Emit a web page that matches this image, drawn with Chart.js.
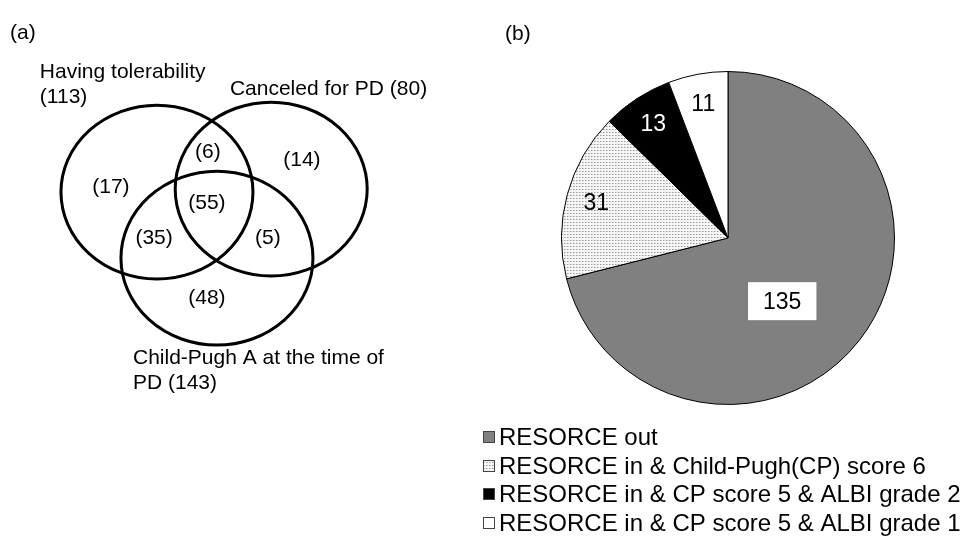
<!DOCTYPE html>
<html>
<head>
<meta charset="utf-8">
<script src="https://cdn.jsdelivr.net/npm/chart.js@4.4.1/dist/chart.umd.min.js"></script>
<style>
  body { margin: 0; background: #fff; font-family: Arial, "Liberation Sans", sans-serif; }
  #wrap { position: relative; width: 963px; height: 552px; overflow: hidden; }
  #vennChart { position: absolute; left: 0; top: 0; }
  #pieChart { position: absolute; left: 480px; top: 0; }
  .panel-label { position: absolute; font-size: 21px; line-height: 24px; color: #000; }
</style>
</head>
<body>
<div id="wrap">
  <canvas id="vennChart" width="480" height="552"></canvas>
  <canvas id="pieChart" width="483" height="552"></canvas>
  <div class="panel-label" style="left:10px; top:20px">(a)</div>
  <div class="panel-label" style="left:505px; top:21px">(b)</div>
</div>
<script>
"use strict";

// (a) venn data
const VENN_SETS = ["Having tolerability", "Canceled for PD", "Child-Pugh A at the time of PD"];
const VENN_TOTALS = [113, 80, 143];
// tol only, tol&canceled, canceled only, all three, tol&CP, canceled&CP, CP only
const REGION_COUNTS = [17, 6, 14, 55, 35, 5, 48];

// (b) pie data
const PIE_LABELS = [
  "RESORCE out",
  "RESORCE in & Child-Pugh(CP) score 6",
  "RESORCE in & CP score 5 & ALBI grade 2",
  "RESORCE in & CP score 5 & ALBI grade 1",
];
const PIE_VALUES = [135, 31, 13, 11];

// venn geometry, in axis units (x 0..10, y 0..12.7 from the top)
const CIRCLE_X = [3.27, 5.65, 4.52];
const CIRCLE_Y = [4.42, 4.35, 5.94];
const CIRCLE_R = 2;
const REGION_X = [2.31, 4.33, 6.29, 4.31, 3.21, 5.58, 4.31];
const REGION_Y = [4.30, 3.50, 3.68, 4.67, 5.48, 5.48, 6.86];
const SET_LABEL_X = [0.83, 4.79, 2.77];
const SET_LABEL_Y = [1.66, 2.05, 8.24];

const FONT = "Arial, 'Liberation Sans', sans-serif";

const setLines = [
  [VENN_SETS[0], "(" + VENN_TOTALS[0] + ")"],
  [VENN_SETS[1] + " (" + VENN_TOTALS[1] + ")"],
  ["Child-Pugh A at the time of", "PD (" + VENN_TOTALS[2] + ")"],
];

const vennPlugin = {
  id: "vennCircles",
  afterDatasetsDraw(chart) {
    const ctx = chart.ctx;
    const xs = chart.scales.x;
    const ys = chart.scales.y;
    ctx.save();
    ctx.lineWidth = 3;
    ctx.strokeStyle = "#000";
    CIRCLE_X.forEach((cx, i) => {
      const px = xs.getPixelForValue(cx);
      const py = ys.getPixelForValue(CIRCLE_Y[i]);
      const rx = Math.abs(xs.getPixelForValue(cx + CIRCLE_R) - px);
      const ry = Math.abs(ys.getPixelForValue(CIRCLE_Y[i] + CIRCLE_R) - py);
      ctx.beginPath();
      ctx.ellipse(px, py, rx, ry, 0, 0, Math.PI * 2);
      ctx.stroke();
    });

    ctx.font = "21px " + FONT;
    ctx.fillStyle = "#000";
    ctx.textAlign = "center";
    ctx.textBaseline = "middle";
    chart.getDatasetMeta(0).data.forEach((pt, i) => {
      ctx.fillText("(" + REGION_COUNTS[i] + ")", pt.x, pt.y);
    });

    ctx.textAlign = "left";
    const lineStep = Math.abs(ys.getPixelForValue(0.58) - ys.getPixelForValue(0));
    setLines.forEach((lines, i) => {
      const x = xs.getPixelForValue(SET_LABEL_X[i]);
      const y = ys.getPixelForValue(SET_LABEL_Y[i]);
      lines.forEach((t, j) => ctx.fillText(t, x, y + j * lineStep));
    });
    ctx.restore();
  },
};

new Chart(document.getElementById("vennChart").getContext("2d"), {
  type: "scatter",
  data: {
    datasets: [
      {
        data: REGION_X.map((x, i) => ({ x: x, y: REGION_Y[i] })),
        pointRadius: 0,
      },
    ],
  },
  options: {
    responsive: false,
    animation: false,
    layout: { padding: 0 },
    scales: {
      x: { display: false, min: 0, max: 10 },
      y: { display: false, min: 0, max: 12.7, reverse: true },
    },
    plugins: { legend: { display: false }, tooltip: { enabled: false } },
  },
  plugins: [vennPlugin],
});

// dotted fill for the CP score 6 slice
function makeDots(ctx) {
  const c = document.createElement("canvas");
  c.width = 3;
  c.height = 3;
  const g = c.getContext("2d");
  g.fillStyle = "#f6f6f6";
  g.fillRect(0, 0, 3, 3);
  g.fillStyle = "#9a9a9a";
  g.fillRect(0, 0, 1, 1);
  g.fillStyle = "#c8c8c8";
  g.fillRect(1, 0, 1, 1);
  return ctx.createPattern(c, "repeat");
}

const pieCtx = document.getElementById("pieChart").getContext("2d");
const pieColors = ["#808080", makeDots(pieCtx), "#000000", "#ffffff"];
const pieTextColors = ["#000", "#000", "#fff", "#000"];

const pieLabelPlugin = {
  id: "pieValueLabels",
  afterDatasetsDraw(chart) {
    const ctx = chart.ctx;
    const total = PIE_VALUES.reduce((a, b) => a + b, 0);
    ctx.save();
    ctx.font = "23px " + FONT;
    ctx.textAlign = "center";
    ctx.textBaseline = "middle";
    chart.getDatasetMeta(0).data.forEach((arc, i) => {
      const p = arc.getProps(["x", "y", "startAngle", "endAngle", "outerRadius"], true);
      let mid = (p.startAngle + p.endAngle) / 2;
      const big = PIE_VALUES[i] / total > 0.5;
      // big slice label sits a bit lower, like excel's best fit
      if (big) mid += 0.2;
      const r = p.outerRadius * (big ? 0.5 : 0.82);
      const x = p.x + Math.cos(mid) * r;
      const y = p.y + Math.sin(mid) * r;
      const txt = String(PIE_VALUES[i]);
      if (big) {
        const w = ctx.measureText(txt).width + 30;
        ctx.fillStyle = "#fff";
        ctx.fillRect(x - w / 2, y - 19, w, 38);
      }
      ctx.fillStyle = pieTextColors[i];
      ctx.fillText(txt, x, y + 1);
    });
    ctx.restore();
  },
};

const pieLegendPlugin = {
  id: "pieLegend",
  afterDraw(chart) {
    const ctx = chart.ctx;
    const colors = chart.data.datasets[0].backgroundColor;
    const top = chart.chartArea.bottom + 32;
    ctx.save();
    ctx.font = "24px " + FONT;
    ctx.textAlign = "left";
    ctx.textBaseline = "middle";
    chart.data.labels.forEach((label, i) => {
      const y = Math.round(top + i * 28.7);
      ctx.fillStyle = colors[i];
      ctx.fillRect(3.5, y - 5.5, 11, 11);
      ctx.strokeStyle = "#444";
      ctx.lineWidth = 1;
      ctx.strokeRect(3.5, y - 5.5, 11, 11);
      ctx.fillStyle = "#000";
      ctx.fillText(label, 19, y + 1);
    });
    ctx.restore();
  },
};

new Chart(pieCtx, {
  type: "pie",
  data: {
    labels: PIE_LABELS,
    datasets: [
      {
        data: PIE_VALUES,
        backgroundColor: pieColors,
        borderColor: "#000",
        borderWidth: 1,
      },
    ],
  },
  options: {
    responsive: false,
    animation: false,
    layout: { padding: { top: 71, bottom: 147, left: 13, right: 0 } },
    plugins: { legend: { display: false }, tooltip: { enabled: false } },
  },
  plugins: [pieLabelPlugin, pieLegendPlugin],
});
</script>
</body>
</html>
